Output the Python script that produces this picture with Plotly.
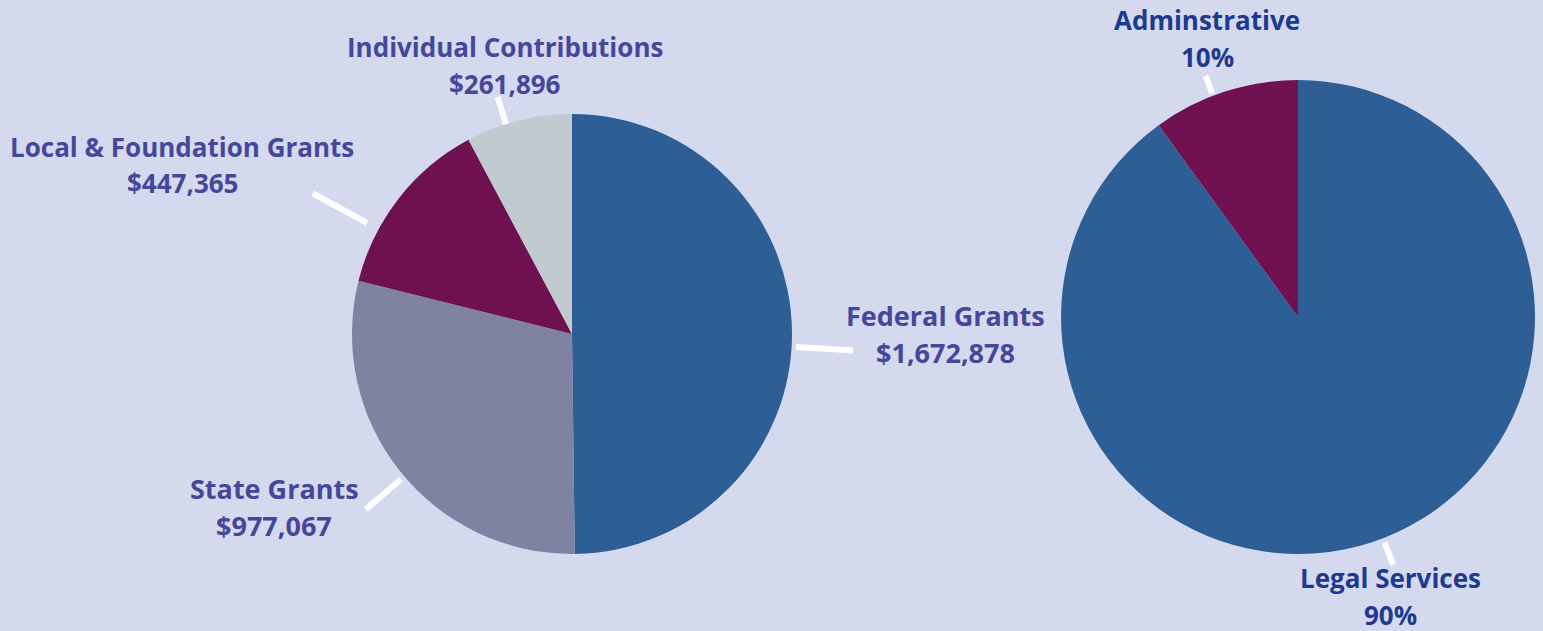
import math
import plotly.graph_objects as go

# ---------------- data ----------------
funding_labels = ["Federal Grants", "State Grants", "Local & Foundation Grants", "Individual Contributions"]
funding_values = [1672878, 977067, 447365, 261896]

expense_labels = ["Legal Services", "Adminstrative"]
expense_values = [90, 10]

# ---------------- style / layout ----------------
W, H = 1543, 631
BG = "#D4D9EE"
LEFT_TXT = "#45479B"
RIGHT_TXT = "#1D3A8F"
funding_colors = ["#2D5F96", "#7F82A0", "#6F1150", "#C1CACF"]
expense_colors = ["#2D5F96", "#6F1150"]
FONT = "Open Sans"
LINE_GAP = 37

LEFT_PIE = dict(cx=572, cy=334, r=220)
RIGHT_PIE = dict(cx=1298, cy=317, r=237)

# per-label placement: angle nudge (deg), leader inner/outer radius factors, text centre px, font size
funding_place = [
    dict(nudge=3.7, rin=1.02, rout=1.28, tx=945, ty=334, size=27),
    dict(nudge=-2.0, rin=1.02, rout=1.23, tx=274, ty=507, size=27),
    dict(nudge=-9.5, rin=1.06, rout=1.34, tx=182, ty=165, size=26),
    dict(nudge=-3.4, rin=1.00, rout=1.13, tx=505, ty=66, size=26),
]
expense_place = [
    dict(nudge=-3.0, rin=1.02, rout=1.12, tx=1390, ty=596, size=26),
    dict(nudge=-3.0, rin=1.01, rout=1.09, tx=1207, ty=38, size=26),
]


def px(x):
    return x / W


def py(y):
    return 1 - y / H


def domain(p):
    return dict(x=[px(p["cx"] - p["r"]), px(p["cx"] + p["r"])],
                y=[py(p["cy"] + p["r"]), py(p["cy"] - p["r"])])


def mid_angles(values):
    tot = sum(values)
    out, cum = [], 0.0
    for v in values:
        frac = v / tot * 360
        out.append(cum + frac / 2)
        cum += frac
    return out


fig = go.Figure()
fig.add_trace(go.Pie(labels=funding_labels, values=funding_values, sort=False,
                     direction="clockwise", rotation=0, textinfo="none",
                     marker=dict(colors=funding_colors, line=dict(width=0)),
                     domain=domain(LEFT_PIE), showlegend=False, hoverinfo="label+value"))
fig.add_trace(go.Pie(labels=expense_labels, values=expense_values, sort=False,
                     direction="clockwise", rotation=0, textinfo="none",
                     marker=dict(colors=expense_colors, line=dict(width=0)),
                     domain=domain(RIGHT_PIE), showlegend=False, hoverinfo="label+percent"))

shapes, annotations = [], []


def add_labels(labels, values, texts, place, pie, color):
    for lab, ang, txt, pl in zip(labels, mid_angles(values), texts, place):
        a = math.radians(ang + pl["nudge"])
        x0 = pie["cx"] + pie["r"] * pl["rin"] * math.sin(a)
        y0 = pie["cy"] - pie["r"] * pl["rin"] * math.cos(a)
        x1 = pie["cx"] + pie["r"] * pl["rout"] * math.sin(a)
        y1 = pie["cy"] - pie["r"] * pl["rout"] * math.cos(a)
        shapes.append(dict(type="line", xref="paper", yref="paper",
                           x0=px(x0), y0=py(y0), x1=px(x1), y1=py(y1),
                           line=dict(color="white", width=6)))
        for k, line_txt in enumerate([lab, txt]):
            annotations.append(dict(text=f"<b>{line_txt}</b>", xref="paper", yref="paper",
                                    x=px(pl["tx"]), y=py(pl["ty"] + (k - 0.5) * LINE_GAP),
                                    xanchor="center", yanchor="middle",
                                    showarrow=False, align="center",
                                    font=dict(family=FONT, size=pl["size"], color=color)))


add_labels(funding_labels, funding_values, [f"${v:,}" for v in funding_values],
           funding_place, LEFT_PIE, LEFT_TXT)
add_labels(expense_labels, expense_values, [f"{v}%" for v in expense_values],
           expense_place, RIGHT_PIE, RIGHT_TXT)

fig.update_layout(width=W, height=H, margin=dict(l=0, r=0, t=0, b=0),
                  paper_bgcolor=BG, plot_bgcolor=BG,
                  shapes=shapes, annotations=annotations)

fig.write_html("out.html", config={"displayModeBar": False},
               post_script="document.body.style.margin='0';document.body.style.background='#D4D9EE';")
